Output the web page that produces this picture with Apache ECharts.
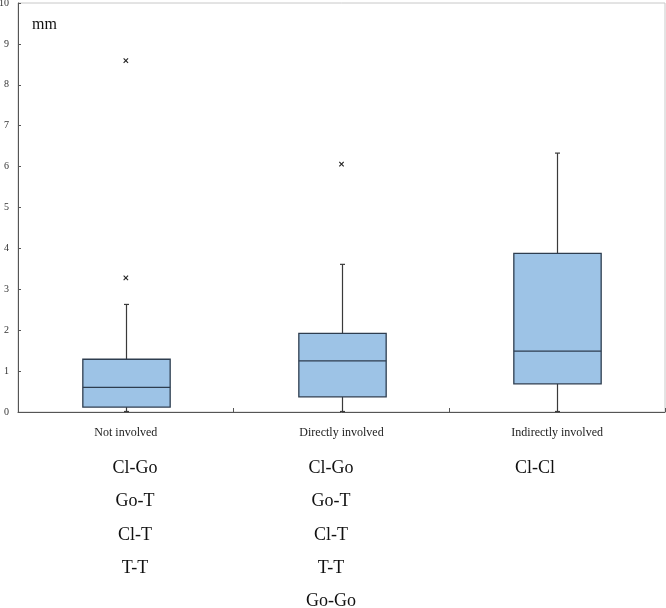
<!DOCTYPE html>
<html>
<head>
<meta charset="utf-8">
<script src="https://cdn.jsdelivr.net/npm/echarts@6/dist/echarts.min.js"></script>
<style>html,body{margin:0;padding:0;background:#fff}#c{width:666px;height:608px}</style>
</head>
<body>
<div id="c"></div>
<script>
const categories = ['Not involved', 'Directly involved', 'Indirectly involved'];
const whiskerLow = [0, 0, 0];
const q1 = [0.12, 0.37, 0.69];
const median = [0.60, 1.25, 1.49];
const q3 = [1.29, 1.92, 3.88];
const whiskerHigh = [2.63, 3.61, 6.33];
const outliers = [[0, 8.59], [0, 3.28], [1, 6.06]];
const yMin = 0, yMax = 10, yStep = 1;
const unitLabel = 'mm';
const pairLabels = [
  ['Cl-Go', 'Go-T', 'Cl-T', 'T-T'],
  ['Cl-Go', 'Go-T', 'Cl-T', 'T-T', 'Go-Go'],
  ['Cl-Cl']
];

const FONT = '"Liberation Serif", "Times New Roman", serif';
const boxFill = '#9DC3E6';
const boxStroke = '#2E3D4F';
const lineColor = '#3a3a3a';

const boxData = categories.map((c, i) => [i, whiskerLow[i], q1[i], median[i], q3[i], whiskerHigh[i]]);

const chart = echarts.init(document.getElementById('c'), null, {renderer: 'canvas'});

const colX = [135, 331, 535];
const rowY0 = 468, rowStep = 33.4;
const graphics = [{
  type: 'text', left: 32, top: 17,
  style: {text: unitLabel, font: '16px ' + FONT, fill: '#111'}
}];
pairLabels.forEach((list, ci) => {
  list.forEach((t, ri) => {
    graphics.push({
      type: 'text', x: colX[ci], y: rowY0 + ri * rowStep,
      style: {text: t, font: '18px ' + FONT, fill: '#111', align: 'center', verticalAlign: 'middle'}
    });
  });
});

chart.setOption({
  animation: false,
  grid: {left: 18, right: 1, top: 3, bottom: 196, show: true, borderColor: '#c8c8c8', borderWidth: 1,
    containLabel: false, outerBoundsMode: 'none'},
  xAxis: {
    type: 'category', data: categories, boundaryGap: true,
    axisLine: {lineStyle: {color: '#555', width: 1}},
    axisTick: {show: true, inside: true, length: 4, alignWithLabel: false, lineStyle: {color: '#555'}},
    axisLabel: {fontFamily: FONT, fontSize: 12, color: '#222', margin: 15},
    splitLine: {show: false}
  },
  yAxis: {
    type: 'value', min: yMin, max: yMax, interval: yStep,
    axisLine: {show: true, lineStyle: {color: '#555', width: 1}},
    axisTick: {show: true, inside: true, length: 3, lineStyle: {color: '#555'}},
    axisLabel: {fontFamily: FONT, fontSize: 10, color: '#333', margin: 9},
    splitLine: {show: false}
  },
  graphic: graphics,
  series: [{
    type: 'custom',
    data: boxData,
    encode: {x: 0, y: [1, 2, 3, 4, 5]},
    renderItem: function (params, api) {
      const i = api.value(0);
      const pLo = api.coord([i, api.value(1)]);
      const pQ1 = api.coord([i, api.value(2)]);
      const pMed = api.coord([i, api.value(3)]);
      const pQ3 = api.coord([i, api.value(4)]);
      const pHi = api.coord([i, api.value(5)]);
      const band = api.size([1, 0])[0];
      const bw = band * 0.405;
      const cx = Math.round(pMed[0]) + 0.5;
      const cap = 2.5;
      const ls = {stroke: lineColor, lineWidth: 1.2};
      return {
        type: 'group',
        children: [
          {type: 'line', shape: {x1: cx, y1: pLo[1], x2: cx, y2: pQ1[1]}, style: ls},
          {type: 'line', shape: {x1: cx, y1: pQ3[1], x2: cx, y2: pHi[1]}, style: ls},
          {type: 'line', shape: {x1: cx - cap, y1: pHi[1], x2: cx + cap, y2: pHi[1]}, style: ls},
          {type: 'line', shape: {x1: cx - cap, y1: pLo[1] - 0.5, x2: cx + cap, y2: pLo[1] - 0.5}, style: ls},
          {type: 'rect', shape: {x: cx - bw / 2, y: pQ3[1], width: bw, height: pQ1[1] - pQ3[1]},
            style: {fill: boxFill, stroke: boxStroke, lineWidth: 1.3}},
          {type: 'line', shape: {x1: cx - bw / 2, y1: pMed[1], x2: cx + bw / 2, y2: pMed[1]},
            style: {stroke: boxStroke, lineWidth: 1.3}}
        ]
      };
    }
  }, {
    type: 'custom',
    data: outliers,
    encode: {x: 0, y: 1},
    renderItem: function (params, api) {
      const p = api.coord([api.value(0), api.value(1)]);
      const s = 2.2;
      const st = {stroke: '#222', lineWidth: 1.1};
      return {
        type: 'group',
        children: [
          {type: 'line', shape: {x1: p[0] - s, y1: p[1] - s, x2: p[0] + s, y2: p[1] + s}, style: st},
          {type: 'line', shape: {x1: p[0] - s, y1: p[1] + s, x2: p[0] + s, y2: p[1] - s}, style: st}
        ]
      };
    }
  }]
});
</script>
</body>
</html>
